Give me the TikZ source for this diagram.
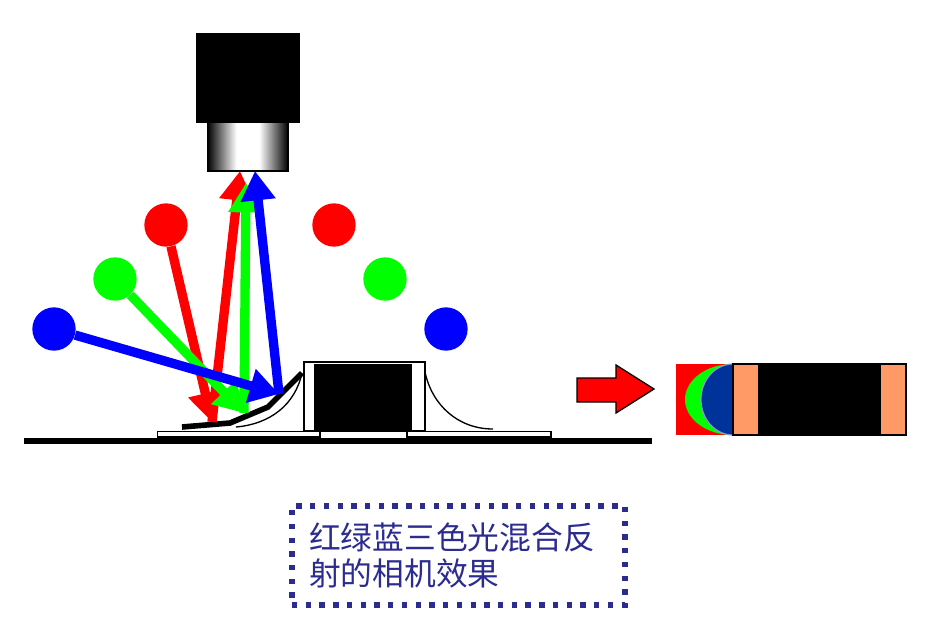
\documentclass[tikz,border=0pt]{standalone}
\usepackage{fontspec}
\newfontfamily\cjk{Noto Sans CJK SC}
\usetikzlibrary{arrows.meta}
\definecolor{notecolor}{HTML}{2B2B90}
\definecolor{padcolor}{HTML}{FF9966}
\definecolor{deepblue}{HTML}{003399}
\definecolor{paleblue}{HTML}{8899CC}
\pgfdeclarehorizontalshading{lensshade}{100bp}{color(0bp)=(black); color(25bp)=(black); color(43bp)=(white); color(57bp)=(white); color(75bp)=(black); color(100bp)=(black)}
\tikzset{
  lamp/.style={circle,fill=#1,inner sep=0pt,minimum size=32.5pt},
  beam/.style={draw=#1,line width=7pt,-{Triangle[length=22pt,width=25pt]}},
}
\begin{document}
\begin{tikzpicture}[x=0.75pt,y=-0.75pt]
            \useasboundingbox (0,0) rectangle (942,636);
            % camera
            \draw[fill=black,line width=0.5pt] (196.5,33.5) rectangle (299.5,122);
            \draw[shading=lensshade,line width=0.8pt] (207.5,122) rectangle (288,171);
            % lamps
            \node[lamp=red] (redL) at (166,225) {};
            \node[lamp=green] (greenL) at (115,279) {};
            \node[lamp=blue] (blueL) at (54,329) {};
            \node[lamp=red] (redR) at (334,225) {};
            \node[lamp=green] (greenR) at (385,279) {};
            \node[lamp=blue] (blueR) at (446,329) {};
            % points on the fillet and on the lens
            \coordinate (redHit) at (212,422);
            \coordinate (greenHit) at (244,413);
            \coordinate (blueHit) at (279,394);
            \coordinate (redLens) at (240,171);
            \coordinate (greenLens) at (246,183);
            \coordinate (blueLens) at (255,171);
            % board and part
            \draw[line width=3.8pt] (24,441) -- (652,441);
            \draw[fill=white,line width=1pt] (157.5,431.5) rectangle (320,437);
            \draw[fill=white,line width=1pt] (407,431.5) rectangle (551,437);
            \draw[fill=white,line width=1pt] (304,362) rectangle (425,431);
            \fill[black] (314,364) rectangle (412,431);
            \draw[line width=1pt] (425,372) .. controls (432,405) and (458,429) .. (493,429);
            \draw[line width=1pt] (302,373) .. controls (295,405) and (270,424) .. (236,427);
            \draw[line width=4.2pt] (182,427) -- (230,423) -- (268,407) -- (302,373);
            % beams
            \draw[beam=red] (redL) -- (redHit);
            \draw[beam=red] (redHit) -- (redLens);
            \draw[beam=green] (greenL) -- (greenHit);
            \draw[beam=green] (greenHit) -- (greenLens);
            \draw[beam=blue] (blueL) -- (blueHit);
            \draw[beam=blue] (blueHit) -- (blueLens);
            % result arrow
            \draw[fill=red,line width=1pt] (577,378) -- (616,378) -- (616,365) -- (654,389) -- (616,413) -- (616,402) -- (577,402) -- cycle;
            % image of the part
            \fill[red] (676,364) rectangle (733,435);
            \fill[green] (733,364) arc[start angle=90,end angle=270,x radius=48,y radius=-35.5];
            \draw[fill=deepblue,draw=paleblue,line width=0.9pt] (733,364) arc[start angle=90,end angle=270,x radius=32,y radius=-35.5];
            \fill[padcolor] (733,364) rectangle (906,435);
            \fill[black] (758,364) rectangle (881,435);
            \draw[line width=1pt] (733,364) rectangle (906,435);
            % note
            \node[draw=notecolor,line width=3.8pt,dash pattern=on 4pt off 6.3pt,minimum width=249.75pt,minimum height=74.25pt,
                  inner xsep=12.75pt,text width=224pt,align=left,text=notecolor,font=\cjk\fontsize{23.8pt}{27pt}\selectfont] (note) at (458.5,555.5)
                  {红绿蓝三色光混合反\\射的相机效果};
\end{tikzpicture}
\end{document}
